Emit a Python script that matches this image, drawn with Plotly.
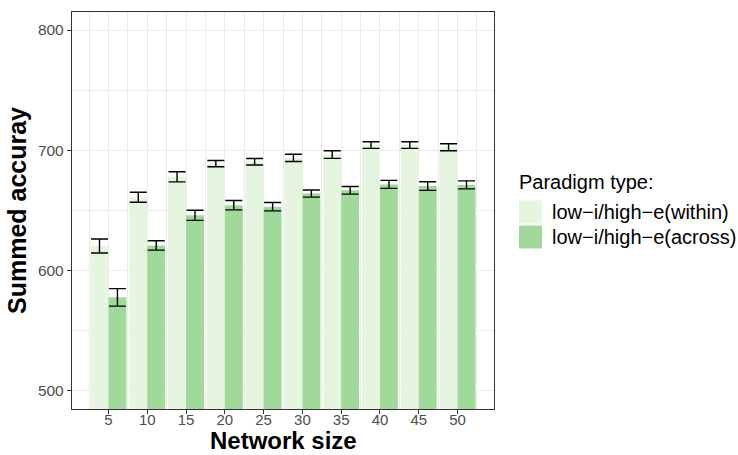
import plotly.graph_objects as go

# Network sizes on the x axis
network_size = [5, 10, 15, 20, 25, 30, 35, 40, 45, 50]

# Mean summed accuracy per paradigm, with standard errors
within_mean = [620.5, 661.0, 678.0, 689.0, 690.5, 693.7, 696.5, 704.4, 704.4, 702.6]
within_se = [5.8, 4.2, 4.2, 2.6, 2.7, 3.0, 3.2, 2.8, 2.8, 2.9]
across_mean = [577.8, 621.0, 646.0, 654.4, 653.2, 664.1, 666.8, 671.7, 670.3, 671.3]
across_se = [7.3, 3.9, 4.2, 3.9, 3.5, 3.0, 3.2, 3.3, 3.6, 3.3]

series_names = ["low\u2212i/high\u2212e(within)", "low\u2212i/high\u2212e(across)"]
series_colors = ["#e5f5e0", "#a1d99b"]
legend_title = "Paradigm type:"
x_title = "Network size"
y_title = "Summed accuray"

FONT = "Liberation Sans, Arial, sans-serif"
W, H = 738, 455
ML, MR, MT, MB = 72, 244, 12, 46

fig = go.Figure()
for name, color, mean, se in [
    (series_names[0], series_colors[0], within_mean, within_se),
    (series_names[1], series_colors[1], across_mean, across_se),
]:
    fig.add_trace(go.Bar(
        x=network_size,
        y=mean,
        name=name,
        marker=dict(color=color, line=dict(width=0)),
        error_y=dict(type="data", array=se, visible=True,
                     color="black", thickness=1.4, width=8.5),
        showlegend=False,
    ))

grid_col = "#ebebeb"
frame_col = "#333333"

fig.update_layout(
    width=W, height=H,
    margin=dict(l=ML, r=MR, t=MT, b=MB, autoexpand=False),
    paper_bgcolor="white", plot_bgcolor="white",
    barmode="group", bargap=0.075, bargroupgap=0,
    font=dict(family=FONT),
)

fig.update_xaxes(
    range=[0.3, 54.7], automargin=False,
    tickmode="linear", tick0=5, dtick=5,
    showgrid=True, gridcolor=grid_col, gridwidth=1.3,
    minor=dict(tick0=2.5, dtick=2.5, showgrid=True, gridcolor=grid_col,
               gridwidth=0.7, ticks=""),
    showline=True, mirror=True, linecolor=frame_col, linewidth=1.3,
    ticks="outside", ticklen=4, tickwidth=1.1, tickcolor=frame_col,
    ticklabelstandoff=-7,
    tickfont=dict(size=15, color="#4d4d4d", family=FONT),
    zeroline=False,
)

fig.update_yaxes(
    range=[485, 815], automargin=False,
    tickmode="linear", tick0=500, dtick=100,
    showgrid=True, gridcolor=grid_col, gridwidth=1.3,
    minor=dict(tick0=0, dtick=50, showgrid=True, gridcolor=grid_col,
               gridwidth=0.7, ticks=""),
    showline=True, mirror=True, linecolor=frame_col, linewidth=1.3,
    ticks="outside", ticklen=4, tickwidth=1.1, tickcolor=frame_col,
    tickfont=dict(size=15.5, color="#4d4d4d", family=FONT),
    zeroline=False,
    title=dict(text=y_title, standoff=4,
               font=dict(size=25, color="black", family=FONT, weight="bold")),
)

# Pixel -> paper helpers for the hand-placed texts and legend
pw, ph = W - ML - MR, H - MT - MB


def px_x(px):
    return (px - ML) / pw


def px_y(py):
    return (H - MB - py) / ph


# x-axis title, sitting on the bottom edge of the figure
fig.add_annotation(
    x=0.5, y=px_y(455), xref="paper", yref="paper",
    text=x_title, showarrow=False, xanchor="center", yanchor="bottom",
    borderpad=0,
    font=dict(size=24, color="black", family=FONT, weight="bold"),
)

# Legend drawn by hand so the keys can be large squares
fig.add_annotation(
    x=px_x(517), y=px_y(181.5), xref="paper", yref="paper",
    text=legend_title, showarrow=False, xanchor="left", yanchor="middle",
    font=dict(size=20, color="black", family=FONT),
)
key_size = 23
for i, (name, color) in enumerate(zip(series_names, series_colors)):
    top = 200.5 + i * 25
    fig.add_shape(
        type="rect", xref="paper", yref="paper",
        x0=px_x(519), x1=px_x(519 + key_size),
        y0=px_y(top + key_size), y1=px_y(top),
        fillcolor=color, line=dict(width=0),
    )
    fig.add_annotation(
        x=px_x(550), y=px_y(top + key_size / 2), xref="paper", yref="paper",
        text=name, showarrow=False, xanchor="left", yanchor="middle",
        font=dict(size=20, color="black", family=FONT),
    )

fig.write_html("out.html")
